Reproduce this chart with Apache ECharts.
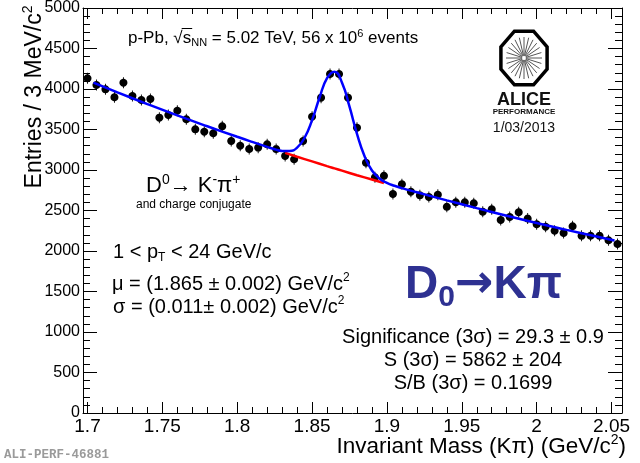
<!DOCTYPE html>
<html>
<head>
<meta charset="utf-8">
<script src="https://cdn.jsdelivr.net/npm/echarts@6/dist/echarts.min.js"></script>
<style>
  html, body { margin: 0; padding: 0; background: #fff; }
  #chart { width: 640px; height: 463px; }
</style>
</head>
<body>
<div id="chart"></div>
<script>
// Kπ invariant-mass histogram (bin centres, GeV/c^2) and entries per bin
const MASS = [
  1.700, 1.706, 1.712, 1.718, 1.724, 1.730, 1.736, 1.742, 1.748, 1.754,
  1.760, 1.766, 1.772, 1.778, 1.784, 1.790, 1.796, 1.802, 1.808, 1.814,
  1.820, 1.826, 1.832, 1.838, 1.844, 1.850, 1.856, 1.862, 1.868, 1.874,
  1.880, 1.886, 1.892, 1.898, 1.904, 1.910, 1.916, 1.922, 1.928, 1.934,
  1.940, 1.946, 1.952, 1.958, 1.964, 1.970, 1.976, 1.982, 1.988, 1.994,
  2.000, 2.006, 2.012, 2.018, 2.024, 2.030, 2.036, 2.042, 2.048, 2.054
];
const ENTRIES = [
  4132, 4049, 3996, 3898, 4078, 3914, 3864, 3877, 3646, 3679,
  3732, 3626, 3502, 3473, 3453, 3539, 3358, 3300, 3259, 3276,
  3317, 3258, 3173, 3132, 3358, 3658, 3893, 4185, 4185, 3893,
  3522, 3090, 2910, 2928, 2704, 2824, 2732, 2687, 2667, 2695,
  2545, 2601, 2601, 2589, 2485, 2515, 2383, 2420, 2478, 2400,
  2330, 2300, 2250, 2222, 2305, 2187, 2188, 2187, 2132, 2086
];

// Total fit (signal + background), sampled along the mass axis
const FIT_MASS = [
  1.704, 1.72, 1.74, 1.76, 1.78, 1.80, 1.81, 1.82, 1.825, 1.83,
  1.835, 1.84, 1.845, 1.85, 1.855, 1.86, 1.865, 1.87, 1.875, 1.88,
  1.885, 1.89, 1.895, 1.90, 1.905, 1.91, 1.92, 1.94, 1.96, 1.98,
  2.00, 2.02, 2.04, 2.052
];
const FIT_TOTAL = [
  4079, 3959, 3814, 3674, 3540, 3410, 3347, 3286, 3257, 3236,
  3234, 3276, 3398, 3616, 3895, 4134, 4214, 4078, 3782, 3446,
  3172, 2994, 2895, 2841, 2805, 2776, 2725, 2625, 2529, 2436,
  2346, 2261, 2178, 2129
];

// Background fit inside the ±3σ signal window
const BKG_MASS = [1.832, 1.84, 1.85, 1.86, 1.865, 1.87, 1.88, 1.89, 1.898];
const BKG_COUNTS = [3212, 3164, 3106, 3048, 3020, 2992, 2936, 2882, 2839];

// Axis ticks
const X_MIN = 1.697, X_MAX = 2.057;
const X_MAJOR_TICKS = [1.7, 1.75, 1.8, 1.85, 1.9, 1.95, 2.0, 2.05];
const X_MINOR_STEP = 0.01;
const Y_MIN = 0, Y_MAX = 5000, Y_STEP = 500;

const X_MINOR_TICKS = [];
X_MAJOR_TICKS.forEach(m => {
  for (let k = 1; k < 5; k++) {
    const v = +(m + k * X_MINOR_STEP).toFixed(3);
    if (v < X_MAX) X_MINOR_TICKS.push(v);
  }
});

const FONT = '"Liberation Sans", Arial, Helvetica, sans-serif';
const ARROW_FONT = '"Liberation Sans", "DejaVu Sans", sans-serif';

function xAxisDef(position, ticks, len, withLabels, withLine) {
  return {
    type: 'value', position: position, min: X_MIN, max: X_MAX,
    axisLine: { show: withLine, onZero: false, lineStyle: { color: '#000', width: 1 } },
    axisTick: { show: true, inside: true, length: len, customValues: ticks,
                lineStyle: { color: '#000', width: 1 } },
    axisLabel: withLabels ? {
      show: true, customValues: ticks, color: '#000', fontSize: 19,
      fontFamily: FONT, margin: 4,
      formatter: v => String(parseFloat((+v).toFixed(2)))
    } : { show: false },
    splitLine: { show: false }
  };
}

function yAxisDef(position, withLabels) {
  return {
    type: 'value', position: position, min: Y_MIN, max: Y_MAX, interval: Y_STEP,
    axisLine: { show: true, onZero: false, lineStyle: { color: '#000', width: 1 } },
    axisTick: { show: true, inside: true, length: 14, lineStyle: { color: '#000', width: 1 } },
    minorTick: { show: true, splitNumber: 5, length: 7, lineStyle: { color: '#000', width: 1 } },
    axisLabel: withLabels ? {
      show: true, color: '#000', fontSize: 16, fontFamily: FONT, margin: 3,
      formatter: v => String(v)
    } : { show: false },
    splitLine: { show: false },
    minorSplitLine: { show: false }
  };
}

// Filled round marker with short error-bar stubs above and below, as one outline
function markerPath() {
  const cx = 4, cy = 5.5, r = 4, hw = 0.45;
  const a0 = Math.asin(hw / r);
  const pts = [];
  pts.push([cx - hw, 0], [cx + hw, 0]);
  for (let i = 0; i <= 12; i++) {
    const a = -Math.PI / 2 + a0 + (Math.PI - 2 * a0) * i / 12;
    pts.push([cx + r * Math.cos(a), cy + r * Math.sin(a)]);
  }
  pts.push([cx + hw, 11], [cx - hw, 11]);
  for (let i = 0; i <= 12; i++) {
    const a = Math.PI / 2 + a0 + (Math.PI - 2 * a0) * i / 12;
    pts.push([cx + r * Math.cos(a), cy + r * Math.sin(a)]);
  }
  return 'path://M' + pts.map(p => p[0].toFixed(3) + ',' + p[1].toFixed(3)).join('L') + 'Z';
}
const MARKER = markerPath();

function octagon(rx, ry) {
  const pts = [];
  for (let i = 0; i < 8; i++) {
    const a = Math.PI / 8 + i * Math.PI / 4;
    pts.push([rx * Math.cos(a), ry * Math.sin(a)]);
  }
  return pts;
}
const logoRays = [];
for (let i = 0; i < 24; i++) {
  const a = i * Math.PI / 12;
  logoRays.push({
    type: 'line',
    shape: { x1: 2 * Math.cos(a), y1: 2.3 * Math.sin(a), x2: 18 * Math.cos(a), y2: 21 * Math.sin(a) },
    style: { stroke: '#555', lineWidth: 1 }
  });
}

// overline position for the sqrt(s_NN) in the header
const HEAD_X = 128;
let sStart = 178, sEnd = 187;
try {
  const measure = document.createElement('canvas').getContext('2d');
  measure.font = '17px "Liberation Sans"';
  const w1 = measure.measureText('p-Pb, √').width;
  const w2 = measure.measureText('s').width;
  if (w1 > 20 && w1 < 120 && w2 > 3 && w2 < 20) { sStart = HEAD_X + w1; sEnd = sStart + w2; }
} catch (e) { /* keep defaults */ }

const SUP = (fs) => ({ fontSize: fs, lineHeight: fs, verticalAlign: 'top', fontFamily: FONT, fill: '#000' });
const SUB = (fs) => ({ fontSize: fs, lineHeight: fs, verticalAlign: 'bottom', fontFamily: FONT, fill: '#000' });

function label(x, y, text, fs, extra, rotation) {
  return {
    type: 'text', x: x, y: y, z: 10, rotation: rotation || 0,
    style: Object.assign({
      text: text, fontSize: fs, fontFamily: FONT, fill: '#000', lineHeight: Math.round(fs * 1.2),
      align: 'left', verticalAlign: 'middle',
      rich: { sup: SUP(Math.round(fs * 0.62)), sub: SUB(Math.round(fs * 0.62)) }
    }, extra || {})
  };
}

const chart = echarts.init(document.getElementById('chart'), null, { renderer: 'canvas' });

chart.setOption({
  animation: false,
  backgroundColor: '#fff',
  grid: { left: 83, right: 18, top: 8, bottom: 50, containLabel: false },
  xAxis: [
    xAxisDef('bottom', X_MAJOR_TICKS, 11, true, true),
    xAxisDef('bottom', X_MINOR_TICKS, 6, false, false),
    xAxisDef('top', X_MAJOR_TICKS, 11, false, true),
    xAxisDef('top', X_MINOR_TICKS, 6, false, false)
  ],
  yAxis: [yAxisDef('left', true), yAxisDef('right', false)],
  series: [
    {
      type: 'scatter', name: 'data', xAxisIndex: 0, yAxisIndex: 0,
      data: MASS.map((m, i) => [m, ENTRIES[i]]),
      symbol: MARKER, symbolSize: [8, 11],
      itemStyle: { color: '#000', opacity: 1 }, z: 2
    },
    {
      type: 'line', name: 'background', xAxisIndex: 0, yAxisIndex: 0,
      data: BKG_MASS.map((m, i) => [m, BKG_COUNTS[i]]),
      smooth: true, symbol: 'none',
      lineStyle: { color: '#ff0000', width: 2.5 }, z: 3
    },
    {
      type: 'line', name: 'fit', xAxisIndex: 0, yAxisIndex: 0,
      data: FIT_MASS.map((m, i) => [m, FIT_TOTAL[i]]),
      smooth: true, symbol: 'none',
      lineStyle: { color: '#0000ff', width: 2.5 }, z: 4
    }
  ],
  graphic: [
    // header
    label(HEAD_X, 38, 'p-Pb, √s{sub|NN} = 5.02 TeV, 56 x 10{sup|6} events', 17),
    { type: 'rect', id: 'sqrt-bar', z: 11,
      shape: { x: sStart - 1, y: 28, width: sEnd - sStart + 2, height: 1 },
      style: { fill: '#000' } },

    // decay channel
    label(146, 186, 'D{sup|0}→ K{sup|-}π{sup|+}', 22, { fontFamily: ARROW_FONT }),
    label(136, 205, 'and charge conjugate', 12),

    // fit parameters
    label(113, 252, '1 < p{sub|T} < 24 GeV/c', 20),
    label(112, 284, 'μ = (1.865 ± 0.002) GeV/c{sup|2}', 20),
    label(113, 307, 'σ = (0.011± 0.002) GeV/c{sup|2}', 20),

    // big channel label
    {
      type: 'text', x: 405, y: 285, z: 10,
      style: {
        text: 'D{sub|0}{arr|→}Kπ', fontSize: 46, fontWeight: 'bold', fontFamily: FONT,
        fill: '#2e3192', lineHeight: 56, align: 'left', verticalAlign: 'middle',
        rich: {
          sub: { fontSize: 30, fontWeight: 'bold', lineHeight: 30, verticalAlign: 'bottom',
                 fontFamily: FONT, fill: '#2e3192' },
          arr: { fontSize: 46, fontWeight: 'bold', fontFamily: '"DejaVu Sans", sans-serif',
                 fill: '#2e3192' }
        }
      }
    },

    // yields
    label(473, 337, 'Significance (3σ) = 29.3 ± 0.9', 20, { align: 'center' }),
    label(473, 360, 'S (3σ) = 5862 ± 204', 20, { align: 'center' }),
    label(473, 383, 'S/B (3σ) = 0.1699', 20, { align: 'center' }),

    // axis titles (the y title reads bottom-to-top)
    label(35, 97, 'Entries / 3 MeV/c{sup|2}', 23, { align: 'center' }, Math.PI / 2),
    label(626, 447, 'Invariant Mass (Kπ) (GeV/c{sup|2})', 22.5, { align: 'right' }),

    // plot id
    { type: 'text', x: 4, y: 455, z: 10,
      style: { text: 'ALI-PERF-46881', fontSize: 12.5, fontWeight: 'bold',
               fontFamily: '"Liberation Mono", "DejaVu Sans Mono", monospace',
               fill: '#9a9a9a', align: 'left', verticalAlign: 'middle' } },

    // experiment logo
    {
      type: 'group', x: 524, y: 58, z: 10,
      children: [
        { type: 'polygon', shape: { points: octagon(25, 29) },
          style: { fill: '#fff', stroke: '#000', lineWidth: 3.5 } }
      ].concat(logoRays)
    },
    { type: 'text', x: 524, y: 100, z: 10,
      style: { text: 'ALICE', fontSize: 18, fontWeight: 'bold', fontFamily: FONT,
               fill: '#111', align: 'center', verticalAlign: 'middle' } },
    { type: 'text', x: 524, y: 112, z: 10,
      style: { text: 'PERFORMANCE', fontSize: 8, fontWeight: 'bold', fontFamily: FONT,
               fill: '#111', align: 'center', verticalAlign: 'middle' } },
    { type: 'text', x: 524, y: 128, z: 10,
      style: { text: '1/03/2013', fontSize: 14, fontFamily: FONT,
               fill: '#111', align: 'center', verticalAlign: 'middle' } }
  ]
});
</script>
</body>
</html>
